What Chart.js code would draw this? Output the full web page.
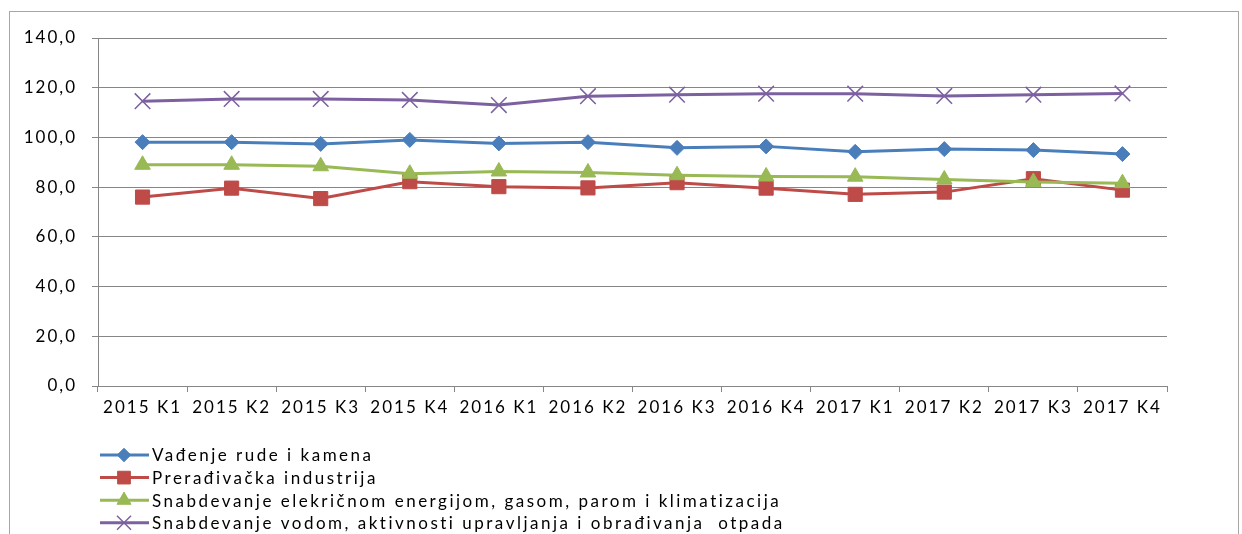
<!DOCTYPE html>
<html>
<head>
<meta charset="utf-8">
<script src="https://cdn.jsdelivr.net/npm/chart.js@4.4.0/dist/chart.umd.min.js"></script>
<style>
    body { margin: 0; background: #fff; overflow: hidden; }
    #wrap { position: relative; width: 1242px; height: 534px; }
    #frame { position: absolute; left: 9px; top: 11px; width: 1228px; height: 600px; border: 1px solid #a6a6a6; pointer-events: none; }
</style>
</head>
<body>
<div id="wrap">
    <canvas id="chartLine" width="1242" height="534"></canvas>
    <div id="frame"></div>
</div>
<script>
var kvartali = ['2015 K1', '2015 K2', '2015 K3', '2015 K4', '2016 K1', '2016 K2', '2016 K3', '2016 K4', '2017 K1', '2017 K2', '2017 K3', '2017 K4'];
var vadjenjeRude = [98.1, 98.1, 97.4, 99.0, 97.6, 98.1, 95.8, 96.4, 94.2, 95.3, 94.9, 93.3];
var preradjivacka = [76.0, 79.6, 75.4, 82.2, 80.2, 79.7, 81.8, 79.6, 77.1, 78.0, 83.4, 78.8];
var snabEnergija = [89.0, 89.0, 88.4, 85.4, 86.3, 85.9, 84.8, 84.3, 84.2, 83.1, 82.1, 81.6];
var snabVoda = [114.6, 115.5, 115.5, 115.1, 113.0, 116.6, 117.2, 117.6, 117.6, 116.7, 117.2, 117.7];
var nazivi = [
    'Vađenje rude i kamena',
    'Prerađivačka industrija',
    'Snabdevanje elekričnom energijom, gasom, parom i klimatizacija',
    'Snabdevanje vodom, aktivnosti upravljanja i obrađivanja  otpada'
];
var yTicks = [0, 20, 40, 60, 80, 100, 120, 140];

var fontFam = 'Lato, "Noto Sans", sans-serif';
var spacing = '2px';

function serija(label, data, color, style, radius, order) {
    return {
        label: label,
        data: data,
        borderColor: color,
        backgroundColor: color,
        borderWidth: 3,
        pointStyle: style,
        pointRadius: radius,
        pointHoverRadius: radius,
        pointBorderWidth: style == 'crossRot' ? 1.5 : 1,
        tension: 0,
        order: order
    };
}

var datasets = [
    serija(nazivi[0], vadjenjeRude, '#4a7ebb', 'rectRot', 7.5, 3),
    serija(nazivi[1], preradjivacka, '#be4b48', 'rect', 10, 2),
    serija(nazivi[2], snabEnergija, '#98b954', 'triangle', 9, 1),
    serija(nazivi[3], snabVoda, '#7d60a0', 'crossRot', 11, 0)
];

// letter spacing + legend drawn below the plot
var excelLook = {
    id: 'excelLook',
    beforeUpdate: function (chart) { chart.ctx.letterSpacing = spacing; },
    beforeDraw: function (chart) { chart.ctx.letterSpacing = spacing; },
    afterDraw: function (chart) {
        var ctx = chart.ctx;
        ctx.save();
        ctx.letterSpacing = '2.5px';
        ctx.font = '17px ' + fontFam;
        ctx.textBaseline = 'middle';
        ctx.fillStyle = '#000';
        for (var i = 0; i < chart.data.datasets.length; i++) {
            var ds = chart.data.datasets[i];
            var y = 455 + i * 22.6;
            ctx.strokeStyle = ds.borderColor;
            ctx.lineWidth = 3;
            ctx.beginPath();
            ctx.moveTo(100, y);
            ctx.lineTo(149, y);
            ctx.stroke();
            ctx.fillStyle = ds.backgroundColor;
            ctx.lineWidth = ds.pointBorderWidth;
            Chart.helpers.drawPoint(ctx, { pointStyle: ds.pointStyle, radius: ds.pointRadius * 0.9, rotation: 0, borderWidth: ds.pointBorderWidth }, 124, y);
            ctx.fillStyle = '#000';
            ctx.fillText(ds.label, 152, y + 1);
        }
        ctx.restore();
    }
};

var ctxLine = document.getElementById('chartLine');
var chartLine = new Chart(ctxLine, {
    type: 'line',
    data: { labels: kvartali, datasets: datasets },
    options: {
        responsive: false,
        animation: false,
        events: [],
        layout: { padding: { left: 0, right: 75, top: 38, bottom: 108 } },
        plugins: { legend: { display: false }, tooltip: { enabled: false } },
        scales: {
            x: {
                offset: true,
                grid: { offset: true, drawOnChartArea: false, drawTicks: true, tickLength: 6, color: '#868686' },
                border: { color: '#868686', width: 1 },
                ticks: { color: '#000', font: { family: fontFam, size: 17 }, padding: 5, maxRotation: 0, autoSkip: false },
                afterFit: function (s) { s.height = 40; }
            },
            y: {
                min: 0,
                max: 140,
                afterBuildTicks: function (s) { s.ticks = yTicks.map(function (v) { return { value: v }; }); },
                grid: { color: '#868686', tickLength: 6 },
                border: { color: '#868686', width: 1 },
                ticks: {
                    color: '#000',
                    font: { family: fontFam, size: 17 },
                    padding: 15,
                    callback: function (v) { return v.toFixed(1).replace('.', ','); }
                },
                afterFit: function (s) { s.width = 98; }
            }
        }
    },
    plugins: [excelLook]
});
</script>
</body>
</html>
